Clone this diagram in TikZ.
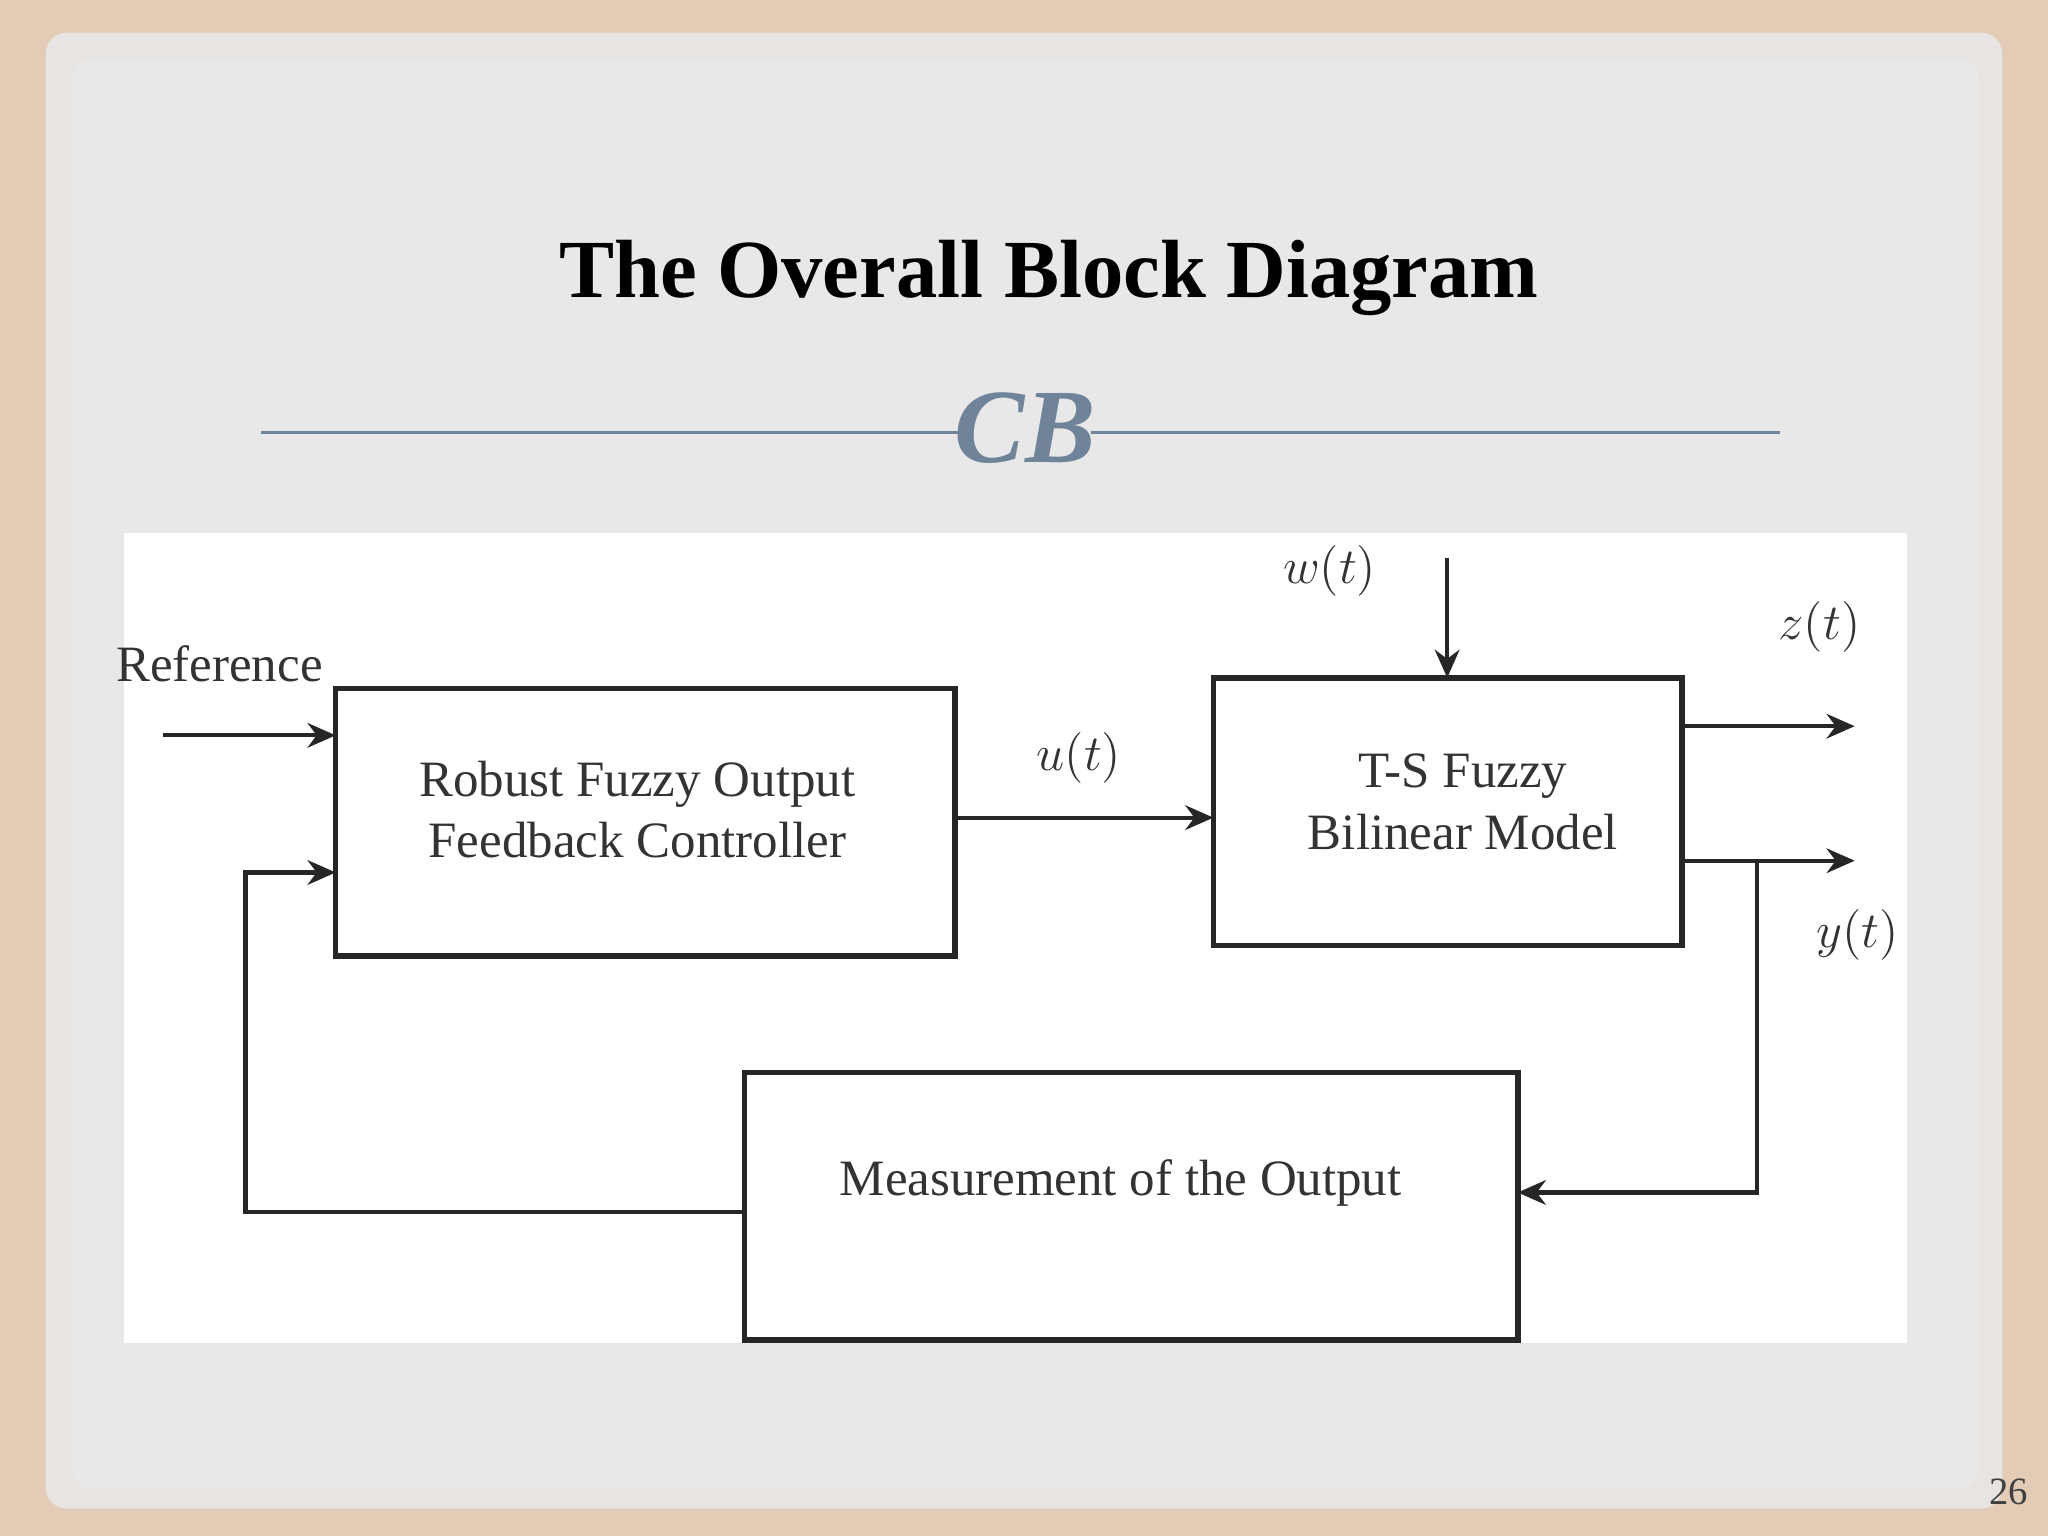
\documentclass[tikz,border=0pt]{standalone}
\usepackage{fontspec}
\setmainfont{Liberation Serif}
\usetikzlibrary{arrows.meta}
\definecolor{beige}{HTML}{E2CCB6}
\definecolor{slide}{HTML}{E8E8E9}
\definecolor{slate}{HTML}{6F8498}
\tikzset{
 blk/.style={draw=black!85,line width=1.6pt,minimum width=#1},
 con/.style={draw=black!85,line width=1.2pt},
 arr/.style={con,-{Stealth[length=8pt,width=7pt]}},
 lab/.style={font=\fontsize{14.5}{17.5}\selectfont,text=black!80},
 mlab/.style={font=\fontsize{15}{18}\selectfont,text=black!80},
}
\begin{document}
\begin{tikzpicture}[x=0.013061cm,y=-0.013061cm]
\useasboundingbox (0,0) rectangle (1568,1176);
\fill[beige] (0,0) rectangle (1568,1176);
\fill[slide!85!beige,rounded corners=6] (35,25) rectangle (1533,1155);
\fill[slide,rounded corners=6] (55,45) rectangle (1515,1140);
\node[font=\bfseries\fontsize{23.5}{28}\selectfont] (title) at (803,213) {The Overall Block Diagram};
\draw[slate,line width=0.7pt] (200,331) -- (735,331);
\draw[slate,line width=0.7pt] (835,331) -- (1363,331);
\node[text=slate,font=\bfseries\itshape\fontsize{30}{30}\selectfont] (orn) at (785,328) {CB};
\fill[white] (95,408) rectangle (1460,1028);
% blocks
\draw[blk=0] (257,527) rectangle (731,732);
\node[lab,align=center] (ctrl) at (488,620) {Robust Fuzzy Output\\Feedback Controller};
\draw[blk=0] (929,519) rectangle (1288,724);
\node[lab,align=center] (ts) at (1120,614) {T-S Fuzzy\\Bilinear Model};
\draw[blk=0] (570,821) rectangle (1162,1026);
\node[lab] (meas) at (858,906) {Measurement of the Output};
% coordinates
\coordinate (r0) at (125,563); \coordinate (r1) at (257,563);
\coordinate (u0) at (731,626); \coordinate (u1) at (929,626);
\coordinate (w0) at (1108,427); \coordinate (w1) at (1108,519);
\coordinate (z0) at (1288,556); \coordinate (z1) at (1420,556);
\coordinate (y0) at (1288,659); \coordinate (y1) at (1420,659);
\coordinate (yb) at (1345,659); \coordinate (m1) at (1162,913);
\coordinate (m0) at (570,928); \coordinate (f1) at (257,668);
\draw[arr] (r0) -- (r1);
\draw[arr] (u0) -- (u1);
\draw[arr] (w0) -- (w1);
\draw[arr] (z0) -- (z1);
\draw[arr] (y0) -- (y1);
\draw[arr] (yb) |- (m1);
\draw[arr] (m0) -| (188,668) -- (f1);
% labels
\node[lab] (ref) at (168,508) {Reference};
\node[mlab] (ul) at (826,580) {$u(t)$};
\node[mlab] (wl) at (1018,437) {$w(t)$};
\node[mlab] (zl) at (1393,480) {$z(t)$};
\node[mlab] (yl) at (1422,716) {$y(t)$};
\node[font=\fontsize{11}{12}\selectfont,text=black!75] (pg) at (1538,1142) {26};
\end{tikzpicture}
\end{document}
